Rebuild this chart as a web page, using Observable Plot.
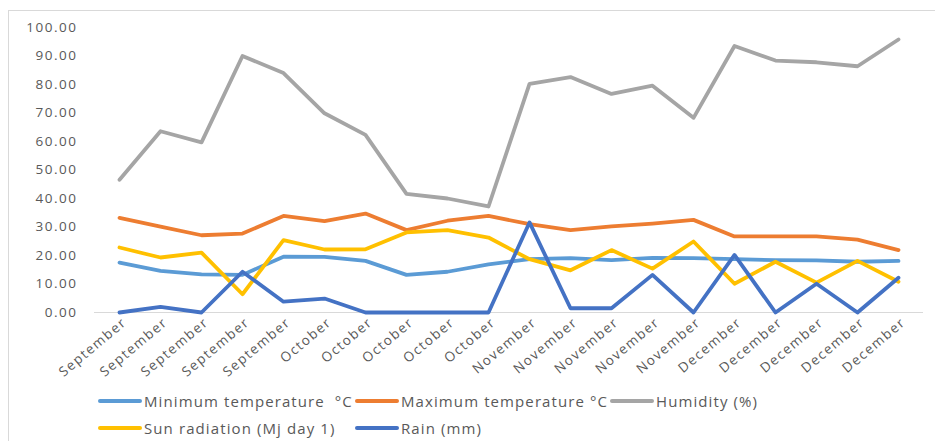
<!DOCTYPE html>
<html>
<head>
<meta charset="utf-8">
<script src="https://cdn.jsdelivr.net/npm/d3@7"></script>
<script src="https://cdn.jsdelivr.net/npm/@observablehq/plot@0.6"></script>
<style>
  html, body { margin: 0; padding: 0; background: #fff; }
  #wrap { position: relative; width: 935px; height: 441px; overflow: hidden; font-family: "Open Sans", sans-serif; }
  #border { position: absolute; left: 8px; top: 10px; width: 940px; height: 450px; border: 1px solid #d9d9d9; box-sizing: border-box; }
  #chart { position: absolute; left: 0; top: 0; }
  #chart svg text { letter-spacing: 1.5px; }
  .leg { position: absolute; display: flex; align-items: center; height: 20px; font-size: 15px; color: #595959; letter-spacing: 1.1px; white-space: pre; }
  .sw { display: inline-block; width: 44px; height: 4px; border-radius: 2px; margin-right: 2px; }
</style>
</head>
<body>
<div id="wrap">
  <div id="border"></div>
  <div id="chart"></div>
  <div id="legend"></div>
</div>
<script>
const months = ["September","September","September","September","September",
  "October","October","October","October","October",
  "November","November","November","November","November",
  "December","December","December","December","December"];
const minTemp = [17.5,14.6,13.4,13.2,19.6,19.5,18.1,13.2,14.3,16.9,18.7,19.1,18.4,19.2,19.1,18.7,18.4,18.3,17.8,18.1];
const maxTemp = [33.2,30.1,27.1,27.7,33.9,32.1,34.7,28.9,32.2,33.9,31.0,28.9,30.2,31.2,32.5,26.7,26.7,26.7,25.6,21.9];
const humidity = [46.6,63.6,59.7,90.0,84.0,69.9,62.3,41.6,40.0,37.2,80.2,82.6,76.7,79.6,68.3,93.5,88.4,87.8,86.4,95.8];
const sunRadiation = [22.8,19.3,21.0,6.4,25.4,22.1,22.2,28.1,28.9,26.3,18.7,14.8,21.9,15.4,24.9,10.1,17.8,10.5,18.1,10.8];
const rain = [0,2.0,0,14.3,3.8,4.9,0,0,0,0,31.6,1.5,1.5,13.2,0,20.2,0,10.1,0,12.2];
const yTicks = [0,10,20,30,40,50,60,70,80,90,100];

const seriesNames = ["Minimum temperature  °C","Maximum temperature °C","Humidity (%)","Sun radiation (Mj day 1)","Rain (mm)"];
const seriesValues = [minTemp, maxTemp, humidity, sunRadiation, rain];
const seriesColors = ["#5B9BD5","#ED7D31","#A5A5A5","#FFC000","#4472C4"];

const idx = d3.range(months.length);
const rows = [];
seriesNames.forEach((name, s) => {
  seriesValues[s].forEach((v, i) => rows.push({series: name, i, v}));
});

const plot = Plot.plot({
  width: 935,
  height: 385,
  marginLeft: 94,
  marginRight: 12,
  marginTop: 27,
  marginBottom: 73,
  style: {fontFamily: "Open Sans, sans-serif", fontSize: "13px", color: "#595959", background: "transparent"},
  x: {type: "point", domain: idx, padding: 0.5},
  y: {domain: [0, 100]},
  color: {domain: seriesNames, range: seriesColors},
  marks: [
    Plot.axisY({ticks: yTicks, tickFormat: d => d.toFixed(2), tickSize: 0, tickPadding: 17, label: null, fill: "#595959", fontSize: 13.5}),
    Plot.axisX({tickFormat: i => months[i], tickSize: 0, tickPadding: 8, tickRotate: -40, dx: 5, label: null, fill: "#595959", fontSize: 13.5}),
    Plot.ruleY([0], {stroke: "#d9d9d9", strokeWidth: 1}),
    Plot.line(rows, {x: "i", y: "v", z: "series", stroke: "series", strokeWidth: 3.8, strokeLinejoin: "round", strokeLinecap: "round"})
  ]
});
document.getElementById("chart").appendChild(plot);

const legendPos = [[98,391],[355,391],[610,391],[98,418],[355,418]];
const legend = document.getElementById("legend");
seriesNames.forEach((name, s) => {
  const d = document.createElement("div");
  d.className = "leg";
  d.style.left = legendPos[s][0] + "px";
  d.style.top = legendPos[s][1] + "px";
  const sw = document.createElement("span");
  sw.className = "sw";
  sw.style.background = seriesColors[s];
  d.appendChild(sw);
  d.appendChild(document.createTextNode(name));
  legend.appendChild(d);
});
</script>
</body>
</html>
